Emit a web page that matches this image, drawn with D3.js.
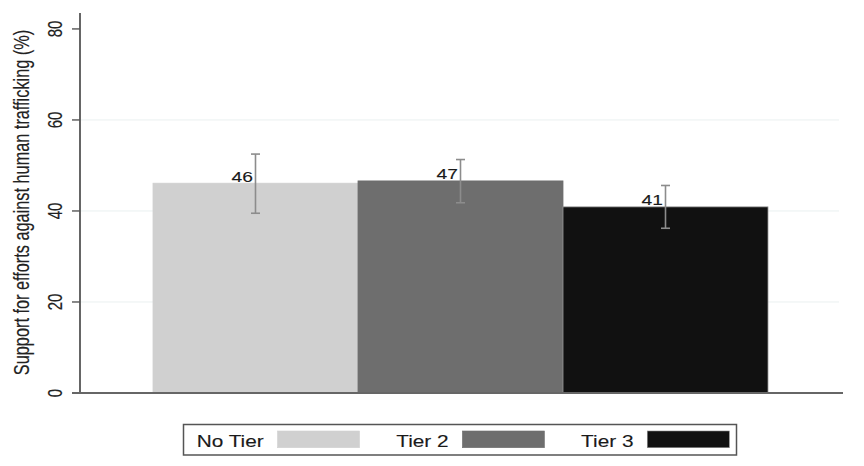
<!DOCTYPE html>
<html>
<head>
<meta charset="utf-8">
<script src="https://cdn.jsdelivr.net/npm/d3@7"></script>
<style>
  html, body { margin: 0; padding: 0; background: #fff; }
  svg { display: block; }
  text { font-family: "Liberation Sans", Arial, Helvetica, sans-serif; stroke-width: 0.12px; }
</style>
</head>
<body>
<svg id="chart" width="864" height="466"></svg>
<script>
// ---- data ----
const categories = ["No Tier", "Tier 2", "Tier 3"];
const values = [46.1, 46.6, 40.9];
const ciLow = [39.5, 41.8, 36.2];
const ciHigh = [52.5, 51.3, 45.6];
const yTicks = [0, 20, 40, 60, 80];
const gridTicks = [20, 40, 60];
const colors = ["#d0d0d0", "#6e6e6e", "#111111"];
const yLabel = "Support for efforts against human trafficking (%)";

const SX = 1.3; // horizontal text stretch seen in the reference

const svg = d3.select("#chart");

const y = d3.scaleLinear().domain([0, 83.5]).range([393, 13]);
const x = d3.scaleBand().domain(categories).range([153, 768]).padding(0);

// gridlines
svg.append("g").selectAll("line").data(gridTicks).join("line")
  .attr("x1", 80).attr("x2", 839)
  .attr("y1", d => y(d)).attr("y2", d => y(d))
  .attr("stroke", "#eaf0f0").attr("stroke-width", 1);

// bars
svg.append("g").selectAll("rect").data(categories).join("rect")
  .attr("x", d => x(d))
  .attr("y", (d, i) => y(values[i]))
  .attr("width", x.bandwidth())
  .attr("height", (d, i) => y(0) - y(values[i]))
  .attr("fill", (d, i) => colors[i])
  .attr("stroke", (d, i) => i === 2 ? "#9a9a9a" : colors[i])
  .attr("stroke-width", 0.8);

// error bars
const eb = svg.append("g").attr("stroke", "#8c8c8c").attr("stroke-width", 1.6);
categories.forEach((c, i) => {
  const cx = x(c) + x.bandwidth() / 2;
  eb.append("line").attr("x1", cx).attr("x2", cx).attr("y1", y(ciLow[i])).attr("y2", y(ciHigh[i]));
  eb.append("line").attr("x1", cx - 4.5).attr("x2", cx + 4.5).attr("y1", y(ciLow[i])).attr("y2", y(ciLow[i]));
  eb.append("line").attr("x1", cx - 4.5).attr("x2", cx + 4.5).attr("y1", y(ciHigh[i])).attr("y2", y(ciHigh[i]));
});

// value labels
svg.append("g").selectAll("text").data(categories).join("text")
  .attr("transform", (d, i) => `translate(${x(d) + x.bandwidth() / 2 - 2.5},${y(values[i]) - 1.5}) scale(${SX},1)`)
  .attr("text-anchor", "end")
  .attr("font-size", 14.8)
  .attr("fill", "#1a1a1a").attr("stroke", "#1a1a1a")
  .text((d, i) => d3.format(".0f")(values[i]));

// y axis
const yAxis = svg.append("g").attr("transform", "translate(80,0)");
yAxis.append("line").attr("x1", 0).attr("x2", 0).attr("y1", y.range()[1]).attr("y2", y(0))
  .attr("stroke", "#555").attr("stroke-width", 1.8);
yAxis.selectAll("line.tick").data(yTicks).join("line").attr("class", "tick")
  .attr("x1", -8).attr("x2", 0).attr("y1", d => y(d)).attr("y2", d => y(d))
  .attr("stroke", "#555").attr("stroke-width", 1.4);
yAxis.selectAll("text").data(yTicks).join("text")
  .attr("transform", d => `translate(-18.5,${y(d)}) scale(${SX},1) rotate(-90)`)
  .attr("text-anchor", "middle")
  .attr("font-size", 15)
  .attr("fill", "#222").attr("stroke", "#222")
  .text(d => d);

// x baseline
svg.append("line").attr("x1", 72).attr("x2", 843).attr("y1", y(0)).attr("y2", y(0))
  .attr("stroke", "#666").attr("stroke-width", 2);

// y label
svg.append("text")
  .attr("transform", `translate(28.5,${202.5}) scale(${SX},1) rotate(-90)`)
  .attr("text-anchor", "middle")
  .attr("font-size", 16.3)
  .attr("fill", "#222").attr("stroke", "#222")
  .text(yLabel);

// legend
const leg = svg.append("g");
leg.append("rect").attr("x", 183.5).attr("y", 424.5).attr("width", 553).attr("height", 30.5)
  .attr("fill", "#fff").attr("stroke", "#555").attr("stroke-width", 1.5);
let lx = 196.7;
categories.forEach((c, i) => {
  const t = leg.append("text")
    .attr("transform", `translate(${lx},446.5) scale(${SX},1)`)
    .attr("font-size", 16)
    .attr("fill", "#1a1a1a").attr("stroke", "#1a1a1a")
    .text(c);
  const w = t.node().getComputedTextLength() * SX;
  const sx = lx + w + 13.8;
  leg.append("rect").attr("x", sx).attr("y", 431).attr("width", 82).attr("height", 16.7)
    .attr("fill", colors[i]).attr("stroke", i === 2 ? "#888" : colors[i]).attr("stroke-width", 0.6);
  lx = sx + 82 + 36.7;
});
</script>
</body>
</html>
